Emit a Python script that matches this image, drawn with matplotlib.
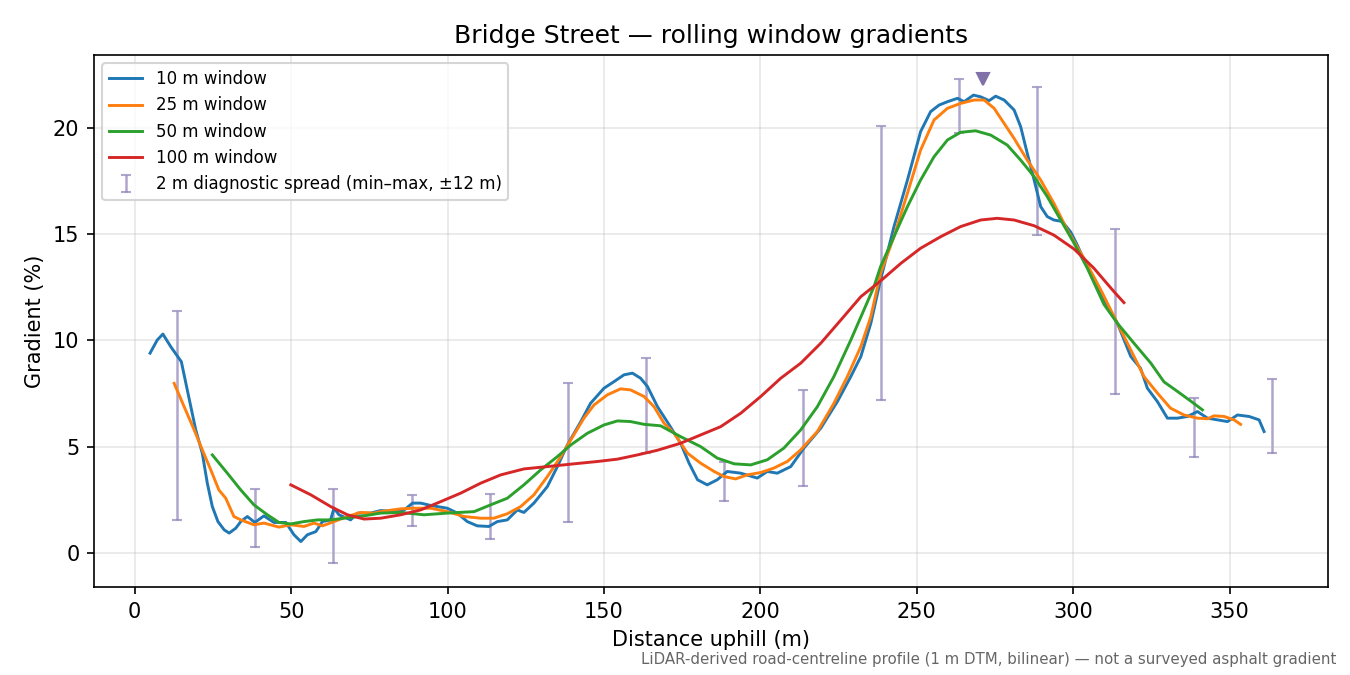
import matplotlib
matplotlib.use("Agg")
import matplotlib.pyplot as plt
import numpy as np

# 10 m window
x10 = [4.9, 7.2, 9.0, 11.5, 13.6, 14.9, 16.8, 19.5, 21.6, 23.2, 24.8, 26.6, 28.6, 30.2,
       32.3, 33.9, 36.0, 38.4, 41.3, 44.5, 48.3, 50.9, 53.1, 55.2, 57.9, 60.0, 62.6,
       63.7, 65.3, 69.0, 71.2, 75.4, 78.6, 83.0, 86.0, 88.8, 91.4, 94.6, 99.9, 103.1,
       106.3, 109.5, 113.2, 115.9, 119.1, 122.3, 124.4, 127.6, 131.9, 135.1, 138.3,
       142.6, 145.7, 150.0, 153.2, 156.4, 159.1, 161.7, 163.9, 167.1, 170.3, 174.5,
       177.2, 179.9, 183.0, 186.2, 189.4, 193.7, 199.0, 202.2, 205.4, 209.7, 213.9,
       219.3, 224.6, 228.9, 232.1, 235.3, 238.4, 242.7, 247.0, 251.2, 254.4, 257.1,
       259.8, 263.0, 265.1, 268.1, 270.4, 273.1, 275.2, 277.9, 281.1, 283.2, 285.3,
       287.5, 289.6, 291.7, 293.8, 296.5, 299.2, 301.3, 303.4, 306.6, 309.8, 314.1,
       318.4, 321.5, 323.7, 326.9, 330.1, 333.3, 336.5, 339.7, 342.9, 346.1, 349.3,
       352.5, 356.2, 359.4, 361.0]
g10 = [9.4, 10.02, 10.3, 9.71, 9.27, 9.0, 7.67, 5.79, 4.69, 3.28, 2.18, 1.47, 1.08, 0.93,
       1.16, 1.47, 1.71, 1.43, 1.74, 1.43, 1.43, 0.85, 0.53, 0.85, 1.0, 1.47, 1.55,
       2.1, 1.79, 1.55, 1.87, 1.87, 1.99, 1.95, 2.0, 2.34, 2.34, 2.23, 2.1, 1.87,
       1.47, 1.27, 1.24, 1.47, 1.55, 2.02, 1.9, 2.34, 3.12, 4.06, 5.08,
       6.18, 7.04, 7.75, 8.06, 8.38, 8.46, 8.22, 7.83, 6.88, 6.15, 5.16,
       4.22, 3.44, 3.2, 3.44, 3.83, 3.75, 3.52, 3.83, 3.75, 4.06, 4.93,
       5.87, 7.12, 8.3, 9.24, 10.81, 12.85, 15.36, 17.55, 19.83, 20.77, 21.08,
       21.24, 21.4, 21.24, 21.55, 21.47, 21.29, 21.5, 21.32, 20.85, 20.06, 18.81,
       17.55, 16.3, 15.83, 15.67, 15.6, 15.1, 14.49, 13.79, 12.85, 11.9, 10.81,
       9.24, 8.69, 7.75, 7.12, 6.34, 6.34, 6.42, 6.65, 6.34, 6.26, 6.18,
       6.49, 6.42, 6.26, 5.71]

# 25 m window
x25 = [12.6, 15.8, 19.0, 21.6, 24.3, 26.9, 29.1, 31.7, 33.9, 38.1, 41.3, 46.1, 49.9,
       54.1, 57.3, 60.0, 63.7, 68.0, 72.2, 76.5, 78.6, 85.0, 89.3, 94.6, 99.9, 105.3,
       110.6, 114.8, 119.1, 123.4, 127.6, 131.9, 136.2, 139.4, 143.6, 146.8, 151.1,
       155.3, 158.5, 162.8, 166.0, 169.2, 172.4, 176.7, 180.9, 185.2, 188.4, 192.1,
       195.8, 200.1, 204.3, 208.6, 212.9, 218.2, 223.5, 227.8, 232.1, 235.3, 238.4,
       242.7, 247.0, 251.2, 255.5, 259.8, 264.0, 268.3, 271.5, 274.7, 277.9, 281.1,
       285.3, 289.6, 293.8, 298.1, 303.4, 308.8, 314.1, 318.4, 322.6, 326.9, 331.1,
       335.4, 339.7, 342.9, 345.0, 348.2, 351.4, 353.5]
g25 = [7.98, 6.88, 5.79, 4.85, 3.91, 2.96, 2.57, 1.71, 1.55, 1.32, 1.4, 1.21, 1.32,
       1.24, 1.4, 1.27, 1.47, 1.71, 1.9, 1.87, 1.94, 2.07, 2.1, 2.1, 1.94, 1.71,
       1.63, 1.63, 1.84, 2.18, 2.73, 3.59, 4.53, 5.32, 6.34, 6.96, 7.44,
       7.72, 7.67, 7.36, 6.88, 6.1, 5.63, 4.69, 4.22, 3.83, 3.59, 3.48,
       3.67, 3.78, 3.99, 4.3, 4.85, 5.71, 7.04, 8.3, 9.71, 11.12, 13.16,
       14.89, 16.93, 18.96, 20.38, 20.93, 21.16, 21.32, 21.32, 20.93, 20.22, 19.51,
       18.49, 17.55, 16.46, 15.2, 13.87, 12.38, 10.81, 9.55, 8.3, 7.52, 6.81,
       6.49, 6.34, 6.31, 6.45, 6.42, 6.26, 6.05]

# 50 m window
x50 = [24.8, 29.6, 33.9, 38.1, 42.4, 46.1, 49.9, 54.1, 58.4, 62.6, 66.9, 73.3, 78.6,
       85.0, 92.5, 99.9, 108.5, 113.8, 119.1, 124.4, 129.8, 135.1, 139.4, 144.7,
       150.0, 154.3, 158.5, 162.8, 168.1, 174.5, 180.9, 186.2, 191.6, 196.9, 202.2,
       207.5, 212.9, 218.2, 223.5, 228.9, 233.1, 236.3, 238.4, 242.7, 247.0, 251.2,
       255.5, 259.8, 264.0, 268.8, 273.6, 278.9, 283.2, 287.5, 291.7, 296.0, 300.3,
       304.5, 309.8, 314.1, 319.4, 324.8, 329.0, 333.3, 337.5, 341.3]
g50 = [4.61, 3.75, 2.96, 2.26, 1.79, 1.43, 1.36, 1.47, 1.55, 1.55, 1.63, 1.74, 1.87,
       1.9, 1.79, 1.87, 1.94, 2.26, 2.57, 3.2, 3.91, 4.53, 5.08, 5.63,
       6.02, 6.21, 6.18, 6.05, 5.98, 5.47, 5.0, 4.46, 4.19, 4.14, 4.38,
       4.93, 5.79, 6.88, 8.3, 10.02, 11.44, 12.53, 13.47, 14.89, 16.3, 17.55,
       18.65, 19.44, 19.8, 19.87, 19.67, 19.2, 18.49, 17.71, 16.77, 15.67, 14.57,
       13.4, 11.7, 10.81, 9.87, 8.93, 8.05, 7.6, 7.15, 6.73]

# 100 m window
x100 = [49.9, 56.3, 62.6, 68.0, 73.3, 78.6, 85.0, 91.4, 97.8, 104.2, 110.6, 117.0,
        124.4, 131.9, 140.4, 147.9, 154.3, 160.7, 167.1, 174.5, 180.9, 187.3, 193.7,
        200.1, 206.5, 212.9, 219.3, 225.7, 232.1, 238.4, 244.9, 251.2, 257.7, 264.0,
        270.4, 275.7, 281.1, 287.5, 293.8, 300.3, 306.6, 313.0, 316.2]
g100 = [3.2, 2.73, 2.18, 1.79, 1.59, 1.63, 1.79, 2.02, 2.41, 2.81, 3.28, 3.67,
        3.95, 4.06, 4.19, 4.3, 4.41, 4.61, 4.83, 5.16, 5.55, 5.94, 6.57,
        7.36, 8.22, 8.93, 9.87, 10.96, 12.06, 12.8, 13.63, 14.34, 14.89, 15.36,
        15.67, 15.75, 15.67, 15.4, 14.96, 14.3, 13.4, 12.3, 11.78]

# 2 m diagnostic spread (min-max within +-12 m)
diag_x = [13.5, 38.5, 63.5, 88.5, 113.5, 138.5, 163.5, 188.5, 213.5, 238.5, 263.5,
          288.5, 313.5, 338.5, 363.5]
diag_lo = [1.55, 0.28, -0.47, 1.27, 0.66, 1.46, 4.7, 2.45, 3.15, 7.2, 19.76, 14.96,
           7.48, 4.52, 4.7]
diag_hi = [11.39, 3.01, 3.01, 2.73, 2.78, 8.0, 9.18, 4.28, 7.67, 20.1, 22.3, 21.93,
           15.25, 7.29, 8.19]

peak_x = 271
peak_y = 22.3

fig, ax = plt.subplots(figsize=(9, 4.5), dpi=150)
fig.subplots_adjust(left=0.0696, right=0.9837, top=0.9185, bottom=0.1304)

lo = np.array(diag_lo)
hi = np.array(diag_hi)
mid = (lo + hi) / 2

ax.plot(x10, g10, color="C0", lw=1.4, label="10 m window", zorder=3)
ax.plot(x25, g25, color="C1", lw=1.4, label="25 m window", zorder=3)
ax.plot(x50, g50, color="C2", lw=1.4, label="50 m window", zorder=3)
ax.plot(x100, g100, color="C3", lw=1.4, label="100 m window", zorder=3)

ax.errorbar(diag_x, mid, yerr=[mid - lo, hi - mid], fmt="none", ecolor="#8e80b8",
            alpha=0.7, elinewidth=1.2, capsize=2.5, capthick=1.0, zorder=1,
            label="2 m diagnostic spread (min–max, ±12 m)")

ax.plot([peak_x], [peak_y], marker="v", color="#8072a8", markersize=6, ls="none",
        zorder=4)

ax.legend(loc="upper left", fontsize=8)

ax.grid(True, alpha=0.3)
ax.set_title("Bridge Street — rolling window gradients")
ax.set_xlabel("Distance uphill (m)")
ax.set_ylabel("Gradient (%)")

fig.text(0.99, 0.012, "LiDAR-derived road-centreline profile (1 m DTM, bilinear) — "
         "not a surveyed asphalt gradient", ha="right", va="bottom", fontsize=7.2,
         color="#666666")

fig.savefig("out.png", dpi=150)
